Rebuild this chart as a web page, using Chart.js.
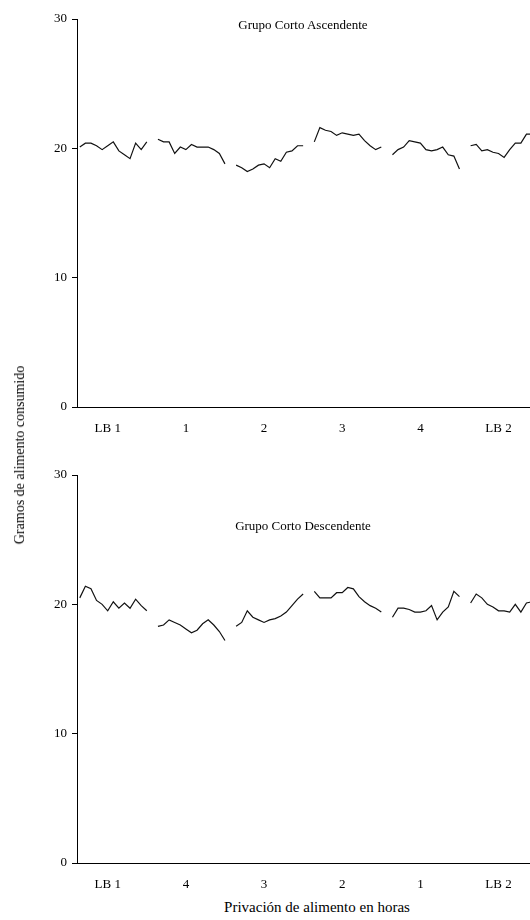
<!DOCTYPE html>
<html>
<head>
<meta charset="utf-8">
<script src="https://cdn.jsdelivr.net/npm/chart.js@4.4.1/dist/chart.umd.min.js"></script>
<style>
  html, body { margin: 0; padding: 0; width: 530px; height: 920px; overflow: hidden; background: #fff; }
  body { position: relative; font-family: 'Liberation Serif', 'Times New Roman', serif; color: #000; }
  .panel { position: absolute; left: 0; width: 560px; height: 437px; }
  #panelTop { top: 0; }
  #panelBottom { top: 456px; }
  .txt { position: absolute; white-space: nowrap; transform: translate(-50%, -50%); }
  .group-title { font-size: 13px; }
  #titleTop { left: 303px; top: 25px; }
  #titleBottom { left: 303px; top: 526px; }
  #yTitle { left: 20px; top: 455px; font-size: 14px; transform: translate(-50%, -50%) rotate(-90deg); }
  #xTitle { left: 317px; top: 907px; font-size: 15px; }
</style>
</head>
<body>
<div class="panel" id="panelTop"><canvas id="chartTop" width="560" height="437"></canvas></div>
<div class="panel" id="panelBottom"><canvas id="chartBottom" width="560" height="437"></canvas></div>
<div class="txt group-title" id="titleTop">Grupo Corto Ascendente</div>
<div class="txt group-title" id="titleBottom">Grupo Corto Descendente</div>
<div class="txt" id="yTitle">Gramos de alimento consumido</div>
<div class="txt" id="xTitle">Privación de alimento en horas</div>
<script>
// group labels (hours of deprivation)
const groupsAsc = ['LB 1', '1', '2', '3', '4', 'LB 2'];
const groupsDesc = ['LB 1', '4', '3', '2', '1', 'LB 2'];

// Grupo Corto Ascendente, daily grams per block
const ascLB1 = [20.1, 20.4, 20.4, 20.2, 19.9, 20.2, 20.5, 19.8, 19.5, 19.2, 20.4, 19.9, 20.5];
const asc1   = [20.7, 20.5, 20.5, 19.6, 20.1, 19.9, 20.3, 20.1, 20.1, 20.1, 19.9, 19.6, 18.8];
const asc2   = [18.7, 18.5, 18.2, 18.4, 18.7, 18.8, 18.5, 19.2, 19.0, 19.7, 19.8, 20.2, 20.2];
const asc3   = [20.5, 21.6, 21.4, 21.3, 21.0, 21.2, 21.1, 21.0, 21.1, 20.6, 20.2, 19.9, 20.1];
const asc4   = [19.5, 19.9, 20.1, 20.6, 20.5, 20.4, 19.9, 19.8, 19.9, 20.1, 19.5, 19.4, 18.4];
const ascLB2 = [20.2, 20.3, 19.8, 19.9, 19.7, 19.6, 19.3, 19.9, 20.4, 20.4, 21.1, 21.1, 21.0];

// Grupo Corto Descendente
const descLB1 = [20.5, 21.4, 21.2, 20.3, 20.0, 19.5, 20.2, 19.7, 20.1, 19.7, 20.4, 19.9, 19.5];
const desc4   = [18.3, 18.4, 18.8, 18.6, 18.4, 18.1, 17.8, 18.0, 18.5, 18.8, 18.4, 17.9, 17.2];
const desc3   = [18.3, 18.6, 19.5, 19.0, 18.8, 18.6, 18.8, 18.9, 19.1, 19.4, 19.9, 20.4, 20.8];
const desc2   = [21.0, 20.5, 20.5, 20.5, 20.9, 20.9, 21.3, 21.2, 20.6, 20.2, 19.9, 19.7, 19.4];
const desc1   = [19.0, 19.7, 19.7, 19.6, 19.4, 19.4, 19.5, 19.9, 18.8, 19.4, 19.8, 21.0, 20.6];
const descLB2 = [20.1, 20.8, 20.5, 20.0, 19.8, 19.5, 19.5, 19.4, 20.0, 19.4, 20.1, 20.2, 20.2];

const yTicks = [0, 10, 20, 30];

const slotsPerGroup = 14; // 13 days + one empty slot between blocks
const labelSlot = 5;

function buildSeries(blocks) {
  let out = [];
  blocks.forEach((b) => {
    out.push(...b);
    while (out.length % slotsPerGroup !== 0) out.push(null);
  });
  return out;
}

function buildLabels(names) {
  let out = [];
  names.forEach((n) => {
    for (let j = 0; j < slotsPerGroup; j++) {
      out.push(j === labelSlot ? n : '');
    }
  });
  return out;
}

const tickFont = { family: 'Liberation Serif', size: 13 };

function makeChart(canvasId, names, blocks) {
  const config = {
    type: 'line',
    data: {
      labels: buildLabels(names),
      datasets: [{
        data: buildSeries(blocks),
        borderColor: '#111',
        borderWidth: 1.2,
        pointRadius: 0,
        tension: 0,
        spanGaps: false,
        fill: false,
      }],
    },
    options: {
      responsive: false,
      animation: false,
      devicePixelRatio: 1,
      layout: { padding: { top: 19, right: 14, left: 0, bottom: 0 } },
      plugins: { legend: { display: false }, tooltip: { enabled: false } },
      scales: {
        x: {
          offset: true,
          grid: { display: true, drawOnChartArea: false, drawTicks: false },
          border: { color: '#000', width: 1 },
          ticks: { autoSkip: false, maxRotation: 0, padding: 14, color: '#000', font: tickFont },
          afterFit(scale) { scale.height = 30; },
        },
        y: {
          min: yTicks[0],
          max: yTicks[yTicks.length - 1],
          afterBuildTicks(scale) { scale.ticks = yTicks.map((v) => ({ value: v })); },
          ticks: { padding: 5, color: '#000', font: tickFont },
          grid: { drawOnChartArea: false, drawTicks: true, tickLength: 5, tickColor: '#000' },
          border: { color: '#000', width: 1 },
          afterFit(scale) { scale.width = 77; },
        },
      },
    },
  };
  return new Chart(document.getElementById(canvasId), config);
}

makeChart('chartTop', groupsAsc, [ascLB1, asc1, asc2, asc3, asc4, ascLB2]);
makeChart('chartBottom', groupsDesc, [descLB1, desc4, desc3, desc2, desc1, descLB2]);
</script>
</body>
</html>
